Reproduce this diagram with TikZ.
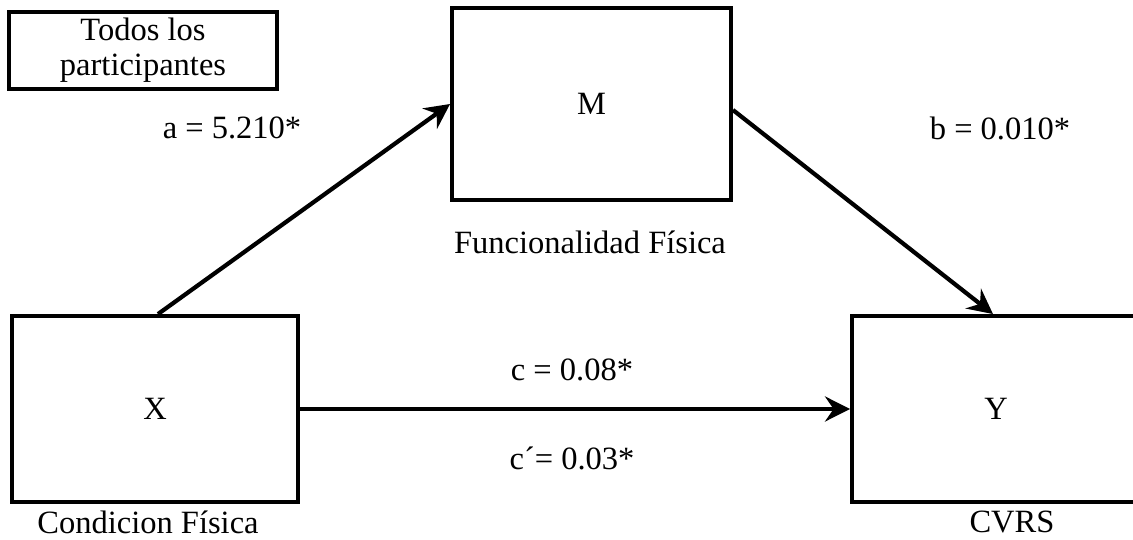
\documentclass[tikz,border=0pt]{standalone}
\usepackage{fontspec}
\setmainfont{Liberation Serif}
\usetikzlibrary{arrows.meta}

\begin{document}
\begin{tikzpicture}[>={Stealth[length=5mm,width=5mm,inset=1.7mm]},
  caja/.style={draw=black,line width=2.2pt,fill=white,align=center,inner sep=2pt,font=\fontsize{18.5}{20}\selectfont},
  flecha/.style={->,line width=2.4pt},
  etiq/.style={font=\fontsize{18.5}{20}\selectfont,inner sep=1pt}]
\useasboundingbox (0,0) rectangle (22.66,10.8);
\clip (0,0) rectangle (22.66,10.8);
\node[caja,minimum width=5.36cm,minimum height=1.54cm] (todos) at (2.86,9.79) {Todos los\\participantes};
\node[caja,minimum width=5.58cm,minimum height=3.84cm] (mbox) at (11.83,8.72) {M};
\node[caja,minimum width=5.72cm,minimum height=3.72cm] (xbox) at (3.10,2.62) {X};
\node[caja,minimum width=5.76cm,minimum height=3.72cm] (ybox) at (19.92,2.62) {Y};
% rotulos
\node[etiq] (lbla) at (4.64,8.24) {a = 5.210*};
\node[etiq] (lblb) at (20.00,8.24) {b = 0.010*};
\node[etiq] (lblc) at (11.44,3.40) {c = 0.08*};
\node[etiq] (lblcp) at (11.44,1.64) {c´= 0.03*};
\node[etiq] (nomm) at (11.80,5.96) {Funcionalidad Física};
\node[etiq] (nomx) at (2.96,0.36) {Condicion Física};
\node[etiq] (nomy) at (20.24,0.36) {CVRS};
% caminos
\draw[flecha] ([xshift=0.06cm]xbox.north) -- (mbox.west);
\draw[flecha] ([yshift=-0.12cm]mbox.east) -- ([xshift=-0.06cm]ybox.north);
\draw[flecha] (xbox.east) -- (ybox.west);
\end{tikzpicture}
\end{document}
